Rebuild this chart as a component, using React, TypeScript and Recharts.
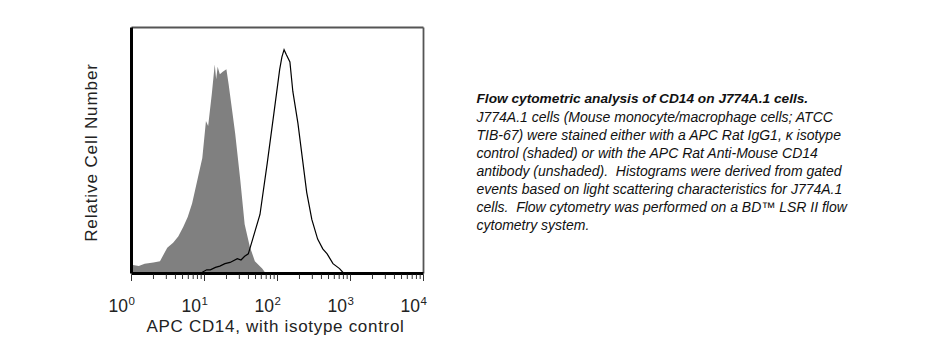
import React from 'react';
import { ComposedChart, Area, Line, XAxis, YAxis, ReferenceLine } from 'recharts';

// log10 of APC intensity
const isotypeX = [0, 0.02, 0.1, 0.18, 0.3, 0.39, 0.49, 0.57, 0.64, 0.71, 0.77, 0.83, 0.91, 0.97, 1.02, 1.05, 1.1, 1.14, 1.16, 1.18, 1.21, 1.25, 1.3, 1.33, 1.38, 1.42, 1.49, 1.55, 1.62, 1.69, 1.79, 1.84];
const isotypeY = [3, 3.5, 3, 4, 4.5, 5, 10.5, 12.5, 15, 19, 23, 28.5, 39, 47, 62, 60, 73, 85, 79, 84, 81, 82, 83, 77, 66, 57, 38, 20, 11, 5, 2, 0];

const cd14X = [0.97, 1.03, 1.08, 1.15, 1.21, 1.28, 1.35, 1.45, 1.5, 1.55, 1.6, 1.66, 1.76, 1.86, 1.95, 2.03, 2.06, 2.09, 2.12, 2.17, 2.21, 2.28, 2.34, 2.4, 2.47, 2.55, 2.62, 2.68, 2.76, 2.85, 2.91];
const cd14Y = [0.5, 1.5, 1.5, 2.5, 3, 4, 4.5, 6, 5.5, 7, 8, 14, 24, 45, 65, 83, 88, 91, 89, 86, 74, 61, 47, 33, 22, 14, 10, 8, 4, 2, 0];

const decades = [0, 1, 2, 3, 4];
const minorSteps = [2, 3, 4, 5, 6, 7, 8, 9];

const captionTitle = 'Flow cytometric analysis of CD14 on J774A.1 cells.';
const captionLines = [
  'J774A.1 cells (Mouse monocyte/macrophage cells; ATCC',
  'TIB-67) were stained either with a APC Rat IgG1, \u03ba isotype',
  'control (shaded) or with the APC Rat Anti-Mouse CD14',
  'antibody (unshaded).  Histograms were derived from gated',
  'events based on light scattering characteristics for J774A.1',
  'cells.  Flow cytometry was performed on a BD\u2122 LSR II flow',
  'cytometry system.',
];

const xs = Array.from(new Set([...isotypeX, ...cd14X])).sort((a, b) => a - b);
const data = xs.map((x) => {
  const i = isotypeX.indexOf(x);
  const j = cd14X.indexOf(x);
  return { x, iso: i >= 0 ? isotypeY[i] : null, cd14: j >= 0 ? cd14Y[j] : null };
});

const ticks: number[] = [];
decades.forEach((d) => {
  ticks.push(d);
  if (d < 4) minorSteps.forEach((m) => ticks.push(d + Math.log10(m)));
});

const font = '"Liberation Sans", Arial, sans-serif';

const LogTick = (props: any) => {
  const { x, y, payload } = props;
  const v = payload.value;
  const major = Math.abs(v - Math.round(v)) < 1e-6;
  return (
    <g>
      <line x1={x} x2={x} y1={y + 1} y2={y + (major ? 7.5 : 5.5)} stroke="#333" strokeWidth={1} />
      {major && (
        <>
          <text x={x - 3.5} y={y + 38.5} textAnchor="end" fontSize={17.5} fontFamily={font} fill="#222">10</text>
          <text x={x - 3} y={y + 31.5} fontSize={11.5} fontFamily={font} fill="#222">{Math.round(v)}</text>
        </>
      )}
    </g>
  );
};

const XLabel = (props: any) => {
  const vb = props.viewBox;
  return (
    <text x={vb.x + vb.width / 2 - 2} y={331.7} textAnchor="middle" fontSize={17} letterSpacing={0.7} fontFamily={font} fill="#222">
      APC CD14, with isotype control
    </text>
  );
};

const YLabel = () => (
  <text x={97} y={152.5} textAnchor="middle" transform="rotate(-90, 97, 152.5)" fontSize={17} letterSpacing={0.9} fontFamily={font} fill="#222">
    Relative Cell Number
  </text>
);

export default function App() {
  return (
    <div style={{ position: 'relative', width: 937, height: 354, margin: -8, background: '#fff' }}>
      <div style={{ position: 'absolute', left: 0, top: 0 }}>
        <ComposedChart width={460} height={354} data={data} margin={{ top: 27.5, right: 36.5, bottom: 10.5, left: 0 }}>
          <XAxis
            dataKey="x"
            type="number"
            domain={[0, 4]}
            ticks={ticks}
            interval={0}
            tickLine={false}
            tickSize={0}
            tickMargin={0}
            tick={<LogTick />}
            height={70}
            axisLine={{ stroke: '#000', strokeWidth: 3 }}
            label={{ content: <XLabel /> }}
          />
          <YAxis type="number" domain={[0, 100]} width={131.5} tick={false} tickLine={false} axisLine={false} label={{ content: <YLabel /> }} />
          <Area dataKey="iso" type="linear" fill="#808080" fillOpacity={1} stroke="none" connectNulls isAnimationActive={false} dot={false} activeDot={false} />
          <Line dataKey="cd14" type="linear" stroke="#000" strokeWidth={1.2} connectNulls isAnimationActive={false} dot={false} activeDot={false} />
          <ReferenceLine y={100} stroke="#555" strokeWidth={1.8} />
          <ReferenceLine x={4} stroke="#555" strokeWidth={1.8} />
          <ReferenceLine x={0} stroke="#000" strokeWidth={3} />
        </ComposedChart>
      </div>
      <div
        style={{
          position: 'absolute',
          left: 476.5,
          top: 89.8,
          fontFamily: font,
          fontStyle: 'italic',
          fontSize: 14,
          lineHeight: '18.1px',
          color: '#111',
          whiteSpace: 'pre',
        }}
      >
        <div style={{ fontWeight: 'bold', fontSize: 13.7 }}>{captionTitle}</div>
        {captionLines.map((l) => (
          <div key={l}>{l}</div>
        ))}
      </div>
    </div>
  );
}
